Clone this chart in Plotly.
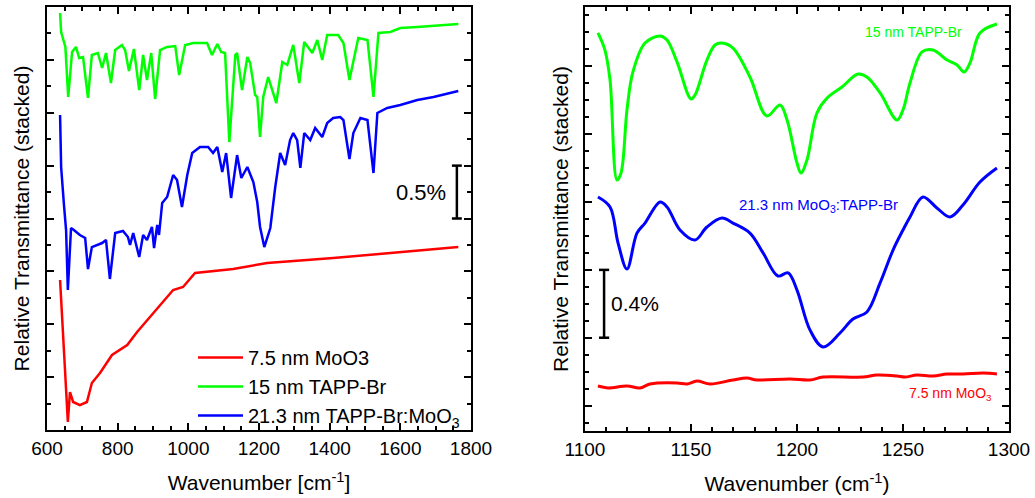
import plotly.graph_objects as go

# ---------------- Left panel: full-range FTIR spectra (stacked, %) ----------------
wn_green_full = [637, 640, 644, 652, 660, 671, 682, 691, 702, 716, 727, 744, 756, 767, 781, 793,
                 812, 821, 832, 846, 861, 872, 883, 895, 906, 920, 940, 963, 974, 991, 1014,
                 1053, 1067, 1082, 1093, 1104, 1116, 1133, 1138, 1152, 1167, 1175, 1189, 1195,
                 1203, 1212, 1226, 1249, 1266, 1280, 1297, 1314, 1328, 1351, 1365, 1379, 1393,
                 1424, 1439, 1456, 1481, 1507, 1524, 1538, 1572, 1600, 1648, 1764]
t_green_full = [3.943, 3.763, 3.716, 3.622, 3.149, 3.575, 3.622, 3.518, 3.527, 3.140, 3.546,
                3.565, 3.423, 3.565, 3.281, 3.593, 3.641, 3.593, 3.395, 3.603, 3.215, 3.546,
                3.310, 3.565, 3.130, 3.593, 3.622, 3.631, 3.357, 3.641, 3.660, 3.660, 3.546,
                3.650, 3.575, 3.565, 2.723, 3.546, 3.565, 3.215, 3.527, 3.470, 3.168, 3.149,
                2.771, 3.149, 3.338, 3.092, 3.480, 3.452, 3.641, 3.281, 3.669, 3.565, 3.688,
                3.499, 3.735, 3.735, 3.660, 3.310, 3.707, 3.688, 3.149, 3.754, 3.764, 3.801,
                3.811, 3.839]

wn_blue_full = [637, 638, 640, 648, 654, 659, 668, 676, 693, 708, 716, 727, 742, 756, 767, 778,
                793, 815, 829, 835, 844, 861, 872, 883, 897, 903, 912, 917, 926, 940, 957, 968,
                982, 997, 1011, 1033, 1056, 1070, 1082, 1096, 1107, 1121, 1138, 1150, 1167,
                1184, 1195, 1203, 1215, 1232, 1246, 1260, 1274, 1288, 1297, 1308, 1317, 1328,
                1345, 1359, 1379, 1393, 1410, 1430, 1439, 1456, 1467, 1487, 1507, 1524, 1535,
                1563, 1600, 1648, 1694, 1764]
t_blue_full = [2.979, 2.761, 2.487, 2.128, 1.891, 1.324, 1.910, 1.891, 1.844, 1.816, 1.522,
               1.730, 1.749, 1.768, 1.797, 1.428, 1.863, 1.882, 1.825, 1.749, 1.863, 1.636,
               1.844, 1.797, 1.920, 1.721, 1.939, 1.844, 2.147, 2.203, 2.411, 2.364, 2.109,
               2.411, 2.619, 2.676, 2.676, 2.619, 2.676, 2.440, 2.619, 2.194, 2.600, 2.383,
               2.487, 2.345, 2.156, 1.920, 1.730, 1.910, 2.298, 2.619, 2.506, 2.742, 2.808,
               2.742, 2.478, 2.808, 2.742, 2.856, 2.771, 2.903, 2.950, 2.960, 2.931, 2.563,
               2.808, 2.950, 2.931, 2.430, 2.998, 3.045, 3.073, 3.121, 3.149, 3.206]

wn_red_full = [637, 651, 659, 665, 674, 693, 713, 727, 750, 784, 827, 855, 900, 957, 985,
               1019, 1127, 1223, 1410, 1600, 1764]
t_red_full = [1.418, 0.567, 0.076, 0.359, 0.265, 0.236, 0.265, 0.444, 0.539, 0.709, 0.804,
              0.927, 1.106, 1.324, 1.352, 1.485, 1.522, 1.579, 1.626, 1.683, 1.730]

# ---------------- Right panel: 1100-1300 cm-1 detail ----------------
wn_green_zoom = [1106.1, 1109.4, 1111.8, 1115.1, 1117.0, 1119.8, 1122.6, 1128.3, 1135.4, 1138.7,
                 1143.4, 1150.0, 1151.9, 1157.5, 1161.3, 1164.6, 1169.8, 1177.8, 1185.8, 1192.0,
                 1195.3, 1200.0, 1201.9, 1204.7, 1209.4, 1214.2, 1221.2, 1228.8, 1233.0, 1239.2,
                 1247.2, 1250.0, 1253.3, 1259.0, 1264.2, 1270.8, 1275.5, 1278.8, 1281.6, 1286.3,
                 1294.3]
t_green_zoom = [2.597, 2.496, 2.320, 1.730, 1.771, 2.143, 2.367, 2.538, 2.579, 2.555, 2.426,
                2.208, 2.231, 2.437, 2.526, 2.538, 2.508, 2.337, 2.107, 2.172, 2.084, 1.830,
                1.771, 1.848, 2.125, 2.213, 2.278, 2.355, 2.337, 2.243, 2.084, 2.143, 2.302,
                2.485, 2.496, 2.437, 2.408, 2.367, 2.420, 2.597, 2.650]

wn_blue_zoom = [1106.1, 1111.8, 1115.6, 1119.8, 1124.5, 1128.3, 1135.4, 1138.7, 1144.8, 1151.9,
                1157.5, 1164.6, 1169.8, 1177.8, 1184.0, 1191.0, 1195.8, 1200.0, 1206.1, 1212.3,
                1220.3, 1226.4, 1233.0, 1239.2, 1245.3, 1250.0, 1253.3, 1259.4, 1266.0, 1272.2,
                1278.3, 1286.3, 1294.3]
t_blue_zoom = [1.630, 1.571, 1.358, 1.205, 1.417, 1.476, 1.600, 1.571, 1.435, 1.376, 1.453,
               1.506, 1.476, 1.417, 1.300, 1.164, 1.182, 1.081, 0.846, 0.745, 0.828, 0.910,
               0.952, 1.123, 1.317, 1.435, 1.512, 1.630, 1.565, 1.512, 1.583, 1.718, 1.801]

wn_red_zoom = [1106.1, 1110.8, 1119.8, 1125.9, 1130.7, 1143.4, 1148.1, 1152.8, 1159.0, 1169.8,
               1176.4, 1181.1, 1196.7, 1206.1, 1212.3, 1231.1, 1237.7, 1247.2, 1250.9, 1256.6,
               1264.2, 1270.8, 1278.3, 1287.7, 1294.3]
t_red_zoom = [0.515, 0.504, 0.515, 0.504, 0.527, 0.533, 0.527, 0.545, 0.527, 0.551, 0.562,
              0.551, 0.557, 0.551, 0.568, 0.568, 0.580, 0.574, 0.568, 0.580, 0.574, 0.586,
              0.586, 0.592, 0.586]

RED, GREEN, BLUE = "#ff0000", "#00ff00", "#0000ff"
FONT = "Arial, 'Liberation Sans', sans-serif"
W, H = 1035, 498

fig = go.Figure()

# left panel traces
fig.add_trace(go.Scatter(x=wn_red_full, y=t_red_full, mode="lines", name="7.5 nm MoO3",
                         line=dict(color=RED, width=2.5), xaxis="x", yaxis="y"))
fig.add_trace(go.Scatter(x=wn_green_full, y=t_green_full, mode="lines", name="15 nm TAPP-Br",
                         line=dict(color=GREEN, width=2.5), xaxis="x", yaxis="y"))
fig.add_trace(go.Scatter(x=wn_blue_full, y=t_blue_full, mode="lines",
                         name="21.3 nm TAPP-Br:MoO<sub>3</sub>",
                         line=dict(color=BLUE, width=2.5), xaxis="x", yaxis="y"))

# right panel traces
for xs, ys, c in [(wn_green_zoom, t_green_zoom, GREEN),
                  (wn_blue_zoom, t_blue_zoom, BLUE),
                  (wn_red_zoom, t_red_zoom, RED)]:
    fig.add_trace(go.Scatter(x=xs, y=ys, mode="lines", showlegend=False,
                             line=dict(color=c, width=3, shape="spline"),
                             xaxis="x2", yaxis="y2"))


def px_x(p):
    return p / W


def px_y(p):
    return 1 - p / H


frame = dict(showline=True, linewidth=2, linecolor="black", mirror="allticks",
             ticks="inside", ticklen=7, tickwidth=2, tickcolor="black",
             showgrid=False, zeroline=False, automargin=False)

fig.update_layout(
    width=W, height=H,
    margin=dict(l=0, r=0, t=0, b=0),
    paper_bgcolor="white", plot_bgcolor="white",
    font=dict(family=FONT, color="black", size=19),
    xaxis=dict(domain=[px_x(47), px_x(471)], range=[600, 1800], dtick=200, tick0=600,
               minor=dict(dtick=50, ticklen=4, tickwidth=2, ticks="inside", tickcolor="black"),
               tickfont=dict(size=19),
               title=dict(text="Wavenumber [cm<sup>-1</sup>]", font=dict(size=21), standoff=18),
               **frame),
    yaxis=dict(domain=[px_y(430), px_y(7)], range=[0, 4], dtick=0.5, tick0=0,
               minor=dict(dtick=0.25, ticklen=4, tickwidth=2, ticks="inside", tickcolor="black"),
               showticklabels=False,
               title=dict(text="Relative Transmittance (stacked)", font=dict(size=21), standoff=10),
               **frame),
    xaxis2=dict(domain=[px_x(585), px_x(1009)], range=[1100, 1300], dtick=50, tick0=1100,
                minor=dict(dtick=10, ticklen=4, tickwidth=2, ticks="inside", tickcolor="black"),
                tickfont=dict(size=19), anchor="y2",
                title=dict(text="Wavenumber (cm<sup>-1</sup>)", font=dict(size=21), standoff=18),
                **frame),
    yaxis2=dict(domain=[px_y(431), px_y(7)], range=[0.25, 2.75], dtick=0.4, tick0=0,
                minor=dict(dtick=0.1, ticklen=4, tickwidth=2, ticks="inside", tickcolor="black"),
                showticklabels=False, anchor="x2",
                title=dict(text="Relative Transmittance (stacked)", font=dict(size=21), standoff=9),
                **frame),
    legend=dict(x=px_x(193), y=px_y(338), xanchor="left", yanchor="top",
                bgcolor="rgba(0,0,0,0)", font=dict(size=20), itemwidth=45,
                tracegroupgap=0),
    showlegend=True,
)

# scale bars
bar = dict(color="black", width=2.5)
shapes = [
    dict(type="line", xref="x", yref="y", x0=1760, x1=1760, y0=2.0, y1=2.5, line=bar),
    dict(type="line", xref="x", yref="y", x0=1746, x1=1774, y0=2.0, y1=2.0, line=bar),
    dict(type="line", xref="x", yref="y", x0=1746, x1=1774, y0=2.5, y1=2.5, line=bar),
    dict(type="line", xref="x2", yref="y2", x0=1109, x1=1109, y0=0.8, y1=1.2, line=bar),
    dict(type="line", xref="x2", yref="y2", x0=1106.6, x1=1111.4, y0=0.8, y1=0.8, line=bar),
    dict(type="line", xref="x2", yref="y2", x0=1106.6, x1=1111.4, y0=1.2, y1=1.2, line=bar),
]
fig.update_layout(shapes=shapes)

fig.add_annotation(x=1735, y=2.25, xref="x", yref="y", text="0.5%", showarrow=False,
                   xanchor="right", font=dict(size=22, color="black"))
fig.add_annotation(x=1111.5, y=1.0, xref="x2", yref="y2", text="0.4%", showarrow=False,
                   xanchor="left", font=dict(size=21, color="black"))
fig.add_annotation(x=1279, y=2.6, xref="x2", yref="y2", text="15 nm TAPP-Br", showarrow=False,
                   xanchor="right", font=dict(size=14, color=GREEN))
fig.add_annotation(x=1210, y=1.58, xref="x2", yref="y2", text="21.3 nm MoO<sub>3</sub>:TAPP-Br",
                   showarrow=False, xanchor="center", font=dict(size=15, color=BLUE))
fig.add_annotation(x=1293, y=0.47, xref="x2", yref="y2", text="7.5 nm MoO<sub>3</sub>",
                   showarrow=False, xanchor="right", font=dict(size=14, color=RED))

fig.write_html("out.html")
